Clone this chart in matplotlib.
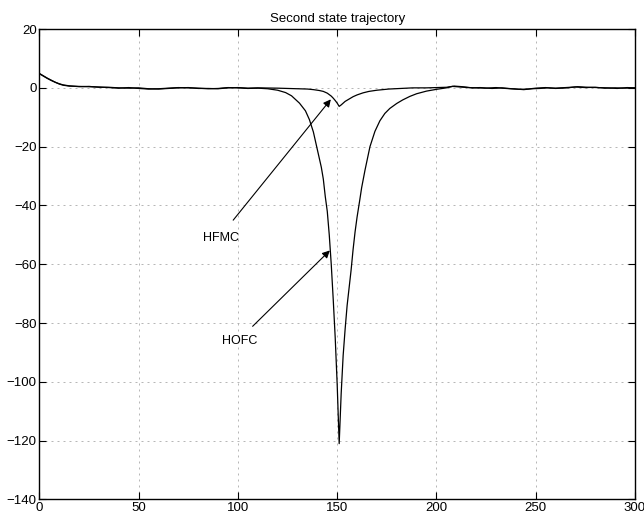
import numpy as np
import matplotlib.pyplot as plt

plt.rcParams['font.family'] = ['Liberation Sans', 'DejaVu Sans']

# HOFC trajectory (large dip around t = 151)
t_hofc = [0, 2, 4, 6, 8, 10, 12, 15, 20, 25, 30, 35, 40, 45, 50, 55, 60, 65, 70, 75,
          80, 85, 90, 95, 100, 105, 110, 115, 120, 124, 127, 131, 134, 136, 138, 140,
          142, 143, 144, 145, 146, 147, 148, 149, 150, 151, 152, 153, 154, 155, 156,
          157, 158, 159, 160, 161.4, 162.3, 164, 166.5, 169, 171.5, 174, 176.5, 180,
          183, 186.6, 190, 195, 200, 205, 208, 212, 216, 220, 225, 230, 235, 240, 244,
          248, 252, 256, 260, 265, 270, 275, 280, 285, 290, 295, 300]
y_hofc = [4.8, 4.0, 3.2, 2.5, 1.9, 1.3, 0.9, 0.6, 0.5, 0.4, 0.3, 0.1, -0.1, 0.1, -0.2,
          -0.4, -0.3, -0.1, 0.1, 0.0, -0.1, -0.3, -0.2, 0.1, 0.0, -0.2, -0.1, -0.3,
          -0.8, -1.6, -2.7, -5.2, -7.8, -10.8, -15, -21, -27, -31, -37, -42, -50, -60,
          -72, -85, -101, -121, -104, -91, -82, -74, -68, -62, -55, -49, -44, -38, -34,
          -28, -20, -14.8, -11.2, -8.7, -7.0, -5.3, -4.1, -2.9, -2.0, -1.1, -0.5, 0.0,
          0.5, 0.3, 0.1, 0.0, -0.1, 0.1, -0.2, -0.4, -0.6, -0.3, -0.2, 0.0, -0.1, 0.1,
          0.3, 0.1, 0.2, -0.1, 0.0, -0.1, 0.0]

# HFMC trajectory (small dip around t = 151)
t_hfmc = [0, 2, 4, 6, 8, 10, 12, 15, 20, 25, 30, 35, 40, 45, 50, 55, 60, 65, 70, 75,
          80, 85, 90, 95, 100, 105, 110, 120, 125, 130, 135, 138, 141, 143, 145, 147,
          148, 149, 150, 151, 152, 153, 154, 156, 158, 160, 163, 166, 170, 176, 182,
          188, 195, 200, 205, 209, 213, 218, 222, 228, 233, 238, 242, 246, 250, 255,
          260, 266, 271, 276, 281, 286, 291, 296, 300]
y_hfmc = [4.9, 4.1, 3.3, 2.6, 1.9, 1.4, 1.0, 0.7, 0.4, 0.5, 0.2, 0.2, 0.0, -0.1, 0.0,
          -0.3, -0.4, -0.2, 0.0, 0.1, -0.2, -0.2, -0.3, 0.0, 0.1, -0.1, 0.0, -0.1,
          -0.2, -0.3, -0.4, -0.6, -0.9, -1.2, -1.8, -2.8, -3.5, -4.3, -5.2, -6.3, -5.8,
          -5.2, -4.6, -3.8, -3.0, -2.4, -1.7, -1.2, -0.8, -0.4, -0.2, 0.0, 0.0, 0.1,
          0.2, 0.6, 0.4, 0.0, 0.1, -0.2, 0.0, -0.3, -0.5, -0.4, -0.1, 0.1, -0.2, 0.0,
          0.4, 0.2, 0.1, 0.0, -0.2, 0.1, 0.0]

x_ticks = [0, 50, 100, 150, 200, 250, 300]
y_ticks = [-140, -120, -100, -80, -60, -40, -20, 0, 20]

fig = plt.figure(figsize=(6.44, 5.19), dpi=100)
ax = fig.add_axes([0.0612, 0.0376, 0.9248, 0.9064])

ax.plot(t_hofc, y_hofc, color='k', lw=0.9)
ax.plot(t_hfmc, y_hfmc, color='k', lw=0.9)

ax.set_xlim(0, 300)
ax.set_ylim(-140, 20)
ax.set_xticks(x_ticks)
ax.set_yticks(y_ticks)
ax.tick_params(direction='in', length=5, width=0.8, labelsize=9.5,
               top=True, right=True, pad=2)
ax.grid(True, linestyle=(0, (2.4, 4.8)), color='#aaaaaa', lw=0.6)
for s in ax.spines.values():
    s.set_linewidth(1.0)

ax.set_title('Second state trajectory', fontsize=9.5, pad=5)

# labels with arrows
arrow = dict(arrowstyle='-|>', color='k', lw=0.8, mutation_scale=11, shrinkA=0, shrinkB=0)
ax.annotate('', xy=(146.8, -3.9), xytext=(97.6, -45), arrowprops=arrow)
ax.annotate('', xy=(146.3, -55.3), xytext=(107.4, -81.1), arrowprops=arrow)
ax.text(91.4, -50.9, 'HFMC', fontsize=9, ha='center', va='center')
ax.text(101, -86.2, 'HOFC', fontsize=9, ha='center', va='center')

fig.savefig('out.png', dpi=100)
